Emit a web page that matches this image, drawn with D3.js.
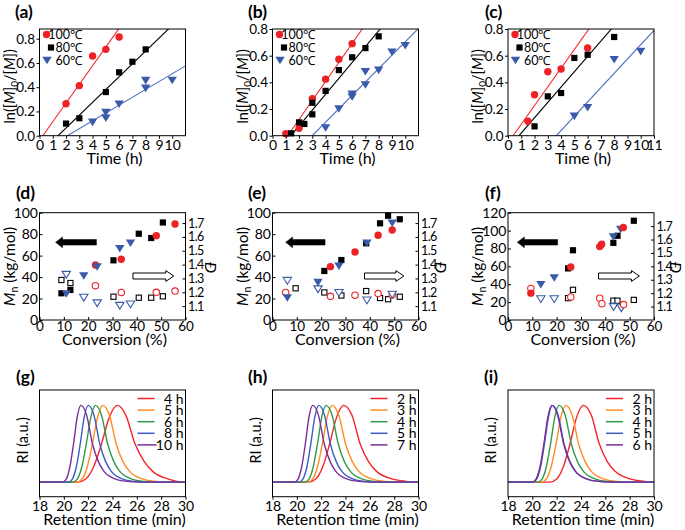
<!DOCTYPE html>
<html><head><meta charset="utf-8">
<script src="https://cdn.jsdelivr.net/npm/d3@7"></script>
<style>
body{margin:0;background:#fff}
svg{display:block}
text{font-family:Lato,'Open Sans',sans-serif;fill:#000}
</style>
</head><body>
<script>
// ================= DATA =================
// Row 1: kinetics ln([M]0/[M]) vs time (h)
const tempLabels = ["100\u2103", "80\u2103", "60\u2103"];
const kinTicksX_ab = [0,1,2,3,4,5,6,7,8,9,10];
const kinTicksX_c  = [0,1,2,3,4,5,6,7,8,9,10,11];
const kinTicksY    = [0,0.2,0.4,0.6,0.8];

const a_t100 = [2,3,4,5,6],            a_v100 = [0.263,0.413,0.657,0.712,0.814];
const a_t80  = [2,3,5,6,7,8],          a_v80  = [0.10,0.144,0.36,0.523,0.61,0.712];
const a_t60  = [4,5,5,6,8,8,10],       a_v60  = [0.11,0.19,0.144,0.26,0.454,0.39,0.455];
const a_fitX0 = [0.25,1.4,2.1],        a_fitSlope = [0.154,0.1058,0.0647];

const b_t100 = [1,2,3,4,5,6],          b_v100 = [0.015,0.055,0.278,0.424,0.573,0.69];
const b_t80  = [1.4,2,2.4,3,3,4,5,6,7,8], b_v80 = [0.018,0.10,0.088,0.247,0.16,0.336,0.492,0.588,0.657,0.745];
const b_t60  = [4,5,6,6,7,7,8,9,10],   b_v60  = [0.058,0.20,0.29,0.31,0.38,0.48,0.49,0.626,0.674];
const b_fitX0 = [1.14,1.39,2.99],      b_fitSlope = [0.1423,0.119,0.1004];

const c_t100 = [1.5,2,3,4,6],          c_v100 = [0.108,0.307,0.48,0.50,0.657];
const c_t80  = [2,3,4,5,6,8],          c_v80  = [0.07,0.295,0.32,0.583,0.607,0.74];
const c_t60  = [5,6,8,10],             c_v60  = [0.145,0.21,0.57,0.63];
const c_fitX0 = [0.38,0.83,3.64],      c_fitSlope = [0.14,0.115,0.1073];

// Row 2: Mn (kg/mol) and dispersity vs conversion (%)
const convTicks = [0,10,20,30,40,50,60];
const mnTicks_de = [0,20,40,60,80,100];
const mnTicks_f  = [0,20,40,60,80,100,120];
const dispTicks  = [1.1,1.2,1.3,1.4,1.5,1.6,1.7];

const d_red_conv  = [23,33.6,48,55.7],       d_red_mn  = [51.3,56.6,78.6,89.5];
const d_red_dconv = [23,33.6,48,55.7],       d_red_disp = [1.248,1.199,1.200,1.209];
const d_blk_conv  = [9,12.7,30.4,40.8,45.9,50.7], d_blk_mn = [24.9,28.0,55.6,80.4,76.4,90.9];
const d_blk_dconv = [9,12.7,30.4,40.8,45.9,50.7], d_blk_disp = [1.289,1.267,1.168,1.161,1.161,1.171];
const d_blu_conv  = [11,18.2,23.7,33,37.4],  d_blu_mn = [24.2,41.0,49.4,66.4,71.5];
const d_blu_dconv = [11,18.2,23.7,33,37.4],  d_blu_disp = [1.327,1.161,1.121,1.103,1.113];

const e_red_conv  = [23.8,33.9,43.4,49.2],   e_red_mn = [49.7,63.4,79.0,83.9];
const e_red_dconv = [5.4,23.8,33.9,43.4,49.2], e_red_disp = [1.199,1.171,1.179,1.191,1.181];
const e_blk_conv  = [21.3,28.3,38.5,44.2,47.5,52.3], e_blk_mn = [45.7,55.9,71.5,90.1,97.2,93.9];
const e_blk_dconv = [9.5,21.3,28.3,38.5,44.2,47.5,52.3], e_blk_disp = [1.229,1.199,1.177,1.209,1.159,1.150,1.168];
const e_blu_conv  = [6.1,18.7,27.3,38.8,49.2], e_blu_mn = [20.5,34.8,50.1,71.5,90.1];
const e_blu_dconv = [6.1,18.7,27.3,38.8,49.2], e_blu_disp = [1.283,1.222,1.196,1.142,1.183];

const f_red_conv  = [9.4,25.8,37.7,38.5,47.4], f_red_mn = [30.0,59.3,82.1,84.7,103.5];
const f_red_dconv = [9.4,25.8,37.7,38.6,47.5], f_red_disp = [1.235,1.172,1.163,1.122,1.115];
const f_blk_conv  = [24.7,26.7,43.3,45.0,51.7], f_blk_mn = [57.7,78.0,86.3,94.2,111.0];
const f_blk_dconv = [24.7,26.7,43.3,45.0,51.7], f_blk_disp = [1.163,1.225,1.144,1.144,1.150];
const f_blu_conv  = [13.5,19.0,43.3,46.3],   f_blu_mn = [39.4,46.9,92.8,101.2];
const f_blu_dconv = [13.5,19.0,43.4,46.6],   f_blu_disp = [1.156,1.156,1.097,1.088];

// Row 3: GPC traces, normalized RI level at each listed retention time (min)
const rtTicks = [18,20,22,24,26,28,30];
const gpcLevels = [0,0,0.04,0.2,0.5,0.85,1,0.87,0.5,0.27,0.14,0.04,0.01,0,0];
const g_labels = ["4 h","5 h","6 h","8 h","10 h"];
const g_times = [
  [18,21.15,21.8,22.45,23.1,23.75,24.4,25.1,25.85,26.6,27.3,28.6,29.3,29.8,30],
  [18,21.08,21.5,21.93,22.35,22.78,23.2,23.75,24.3,24.85,25.4,26.5,27.6,28.7,30],
  [18,20.73,21.1,21.48,21.85,22.23,22.6,23.1,23.6,24.1,24.6,25.6,26.6,27.6,30],
  [18,20.38,20.7,21.03,21.35,21.68,22.0,22.48,22.95,23.43,23.9,24.85,25.8,26.75,30],
  [18,19.9,20.2,20.5,20.8,21.1,21.4,21.88,22.35,22.83,23.3,24.25,25.2,26.15,30]
];
const h_labels = ["2 h","3 h","4 h","5 h","7 h"];
const h_times = [
  [18,20.98,21.55,22.13,22.7,23.28,23.85,24.53,25.2,25.88,26.55,27.9,29.0,29.6,30],
  [18,20.9,21.3,21.7,22.1,22.5,22.9,23.45,24.0,24.55,25.1,26.2,27.3,28.4,30],
  [18,20.65,21.0,21.35,21.7,22.05,22.4,22.9,23.4,23.9,24.4,25.4,26.4,27.4,30],
  [18,20.18,20.5,20.83,21.15,21.48,21.8,22.28,22.75,23.23,23.7,24.65,25.6,26.55,30],
  [18,19.8,20.1,20.4,20.7,21.0,21.3,21.78,22.25,22.73,23.2,24.15,25.1,26.05,30]
];
const i_labels = ["2 h","3 h","4 h","5 h","6 h"];
const i_times = [
  [18,21.45,22.0,22.55,23.1,23.65,24.2,24.85,25.5,26.15,26.8,28.1,29.2,29.7,30],
  [18,20.75,21.15,21.55,21.95,22.35,22.75,23.28,23.8,24.33,24.85,25.9,26.95,28.0,30],
  [18,20.45,20.8,21.15,21.5,21.85,22.2,22.7,23.2,23.7,24.2,25.2,26.2,27.2,30],
  [18,20.03,20.35,20.68,21.0,21.33,21.65,22.13,22.6,23.08,23.55,24.5,25.45,26.4,30],
  [18,19.98,20.3,20.63,20.95,21.28,21.6,22.08,22.57,23.06,23.54,24.51,25.48,26.45,30]
];

// ================= STYLE =================
const RED = "#ec2227", BLACK = "#000000", BLUE = "#3b5ba8";
const LINE_COLORS = ["#ef2b2d", "#000000", "#4b6ec0"];
const GPC_COLORS = ["#f5232b", "#ff8c22", "#2f9a4c", "#3d5cc2", "#7a2e9c"];
const COLS = [39.5, 272.5, 508];
const PW = 146;
const TICK_FS = "14px", TITLE_FS = "16px";

const svg = d3.select("body").append("svg").attr("width", 685).attr("height", 530);
const defs = svg.append("defs");
let clipN = 0;
function makeClip(x, y, w, h) {
  const id = "clip" + (clipN++);
  defs.append("clipPath").attr("id", id).append("rect").attr("x", x).attr("y", y).attr("width", w).attr("height", h);
  return "url(#" + id + ")";
}
function frame(g, x, y, w, h) {
  g.append("rect").attr("x", x).attr("y", y).attr("width", w).attr("height", h)
    .attr("fill", "none").attr("stroke", "#000").attr("stroke-width", 1);
}
function styleAxis(sel, fs) {
  sel.select(".domain").remove();
  sel.selectAll(".tick line").attr("stroke", "#000");
  sel.selectAll(".tick text").style("font-size", fs || TICK_FS).attr("fill", "#000");
}
function marker(g, shape, x, y, color, open) {
  if (shape === "circle") {
    g.append("circle").attr("cx", x).attr("cy", y).attr("r", open ? 3.2 : 3.7)
      .attr("fill", open ? "#fff" : color).attr("stroke", open ? color : "none").attr("stroke-width", 1.1);
  } else if (shape === "square") {
    const s = open ? 5.2 : 6.2;
    g.append("rect").attr("x", x - s / 2).attr("y", y - s / 2).attr("width", s).attr("height", s)
      .attr("fill", open ? "#fff" : color).attr("stroke", open ? color : "none").attr("stroke-width", 1.1);
  } else {
    const w = open ? 8.4 : 9.4, h = open ? 6.8 : 7.6;
    g.append("path").attr("d", `M${x - w / 2},${y - h / 2}L${x + w / 2},${y - h / 2}L${x},${y + h / 2}Z`)
      .attr("fill", open ? "#fff" : color).attr("stroke", open ? color : "none").attr("stroke-width", 1.1)
      .attr("stroke-linejoin", "miter");
  }
}
function panelLabel(txt, x, y) {
  svg.append("text").attr("x", x).attr("y", y).style("font-size", "17.5px").style("font-weight", "bold").text(txt);
}

// ================= ROW 1 =================
function drawKinetics(cfg) {
  const g = svg.append("g");
  const top = 29, h = 106.7, left = cfg.left;
  const x = d3.scaleLinear().domain([0, 11]).range([left, left + PW]);
  const y = d3.scaleLinear().domain([0, cfg.yMax]).range([top + h, top]);
  const cp = makeClip(left, top, PW, h);
  cfg.fitX0.forEach((x0, i) => {
    g.append("line").attr("clip-path", cp)
      .attr("x1", x(x0)).attr("y1", y(0))
      .attr("x2", x(11)).attr("y2", y(cfg.fitSlope[i] * (11 - x0)))
      .attr("stroke", LINE_COLORS[i]).attr("stroke-width", 1.1);
  });
  const shapes = ["circle", "square", "triangle"], cols = [RED, BLACK, BLUE];
  cfg.series.forEach((s, i) => {
    s[0].forEach((t, j) => marker(g, shapes[i], x(t), y(s[1][j]), cols[i], false));
  });
  // legend
  const rows = [top + 5.5, top + 18.5, top + 31.5];
  const mx = [left + 7, left + 11.5, left + 7.5];
  tempLabels.forEach((lab, i) => {
    marker(g, shapes[i], mx[i], rows[i], cols[i], false);
    g.append("text").attr("x", left + 42.5).attr("y", rows[i] + 4.5).attr("text-anchor", "end")
      .style("font-size", "12.5px").text(lab);
  });
  frame(g, left, top, PW, h);
  const ax = g.append("g").attr("transform", `translate(0,${top + h})`)
    .call(d3.axisBottom(x).tickValues(cfg.xTicks).tickFormat(d3.format("d")).tickSize(3).tickSizeOuter(0).tickPadding(1));
  styleAxis(ax);
  const ay = g.append("g").attr("transform", `translate(${left},0)`)
    .call(d3.axisLeft(y).tickValues(kinTicksY).tickFormat(d3.format(".1f")).tickSize(3).tickSizeOuter(0).tickPadding(1.5));
  styleAxis(ay, "13.5px");
  g.append("text").attr("x", left + PW / 2 + 2).attr("y", 164).attr("text-anchor", "middle")
    .style("font-size", TITLE_FS).text("Time (h)");
  const yl = g.append("text").attr("transform", `translate(${left - 25},${top + h / 2 + 4}) rotate(-90)`)
    .attr("text-anchor", "middle").style("font-size", "14.5px");
  yl.append("tspan").text("ln([");
  yl.append("tspan").style("font-style", "italic").text("M");
  yl.append("tspan").text("]");
  yl.append("tspan").attr("dy", 3).style("font-size", "10px").text("0");
  yl.append("tspan").attr("dy", -3).text("/[");
  yl.append("tspan").style("font-style", "italic").text("M");
  yl.append("tspan").text("])");
}

drawKinetics({ left: COLS[0], yMax: 0.88, xTicks: kinTicksX_ab, fitX0: a_fitX0, fitSlope: a_fitSlope,
  series: [[a_t100, a_v100], [a_t80, a_v80], [a_t60, a_v60]] });
drawKinetics({ left: COLS[1], yMax: 0.8, xTicks: kinTicksX_ab, fitX0: b_fitX0, fitSlope: b_fitSlope,
  series: [[b_t100, b_v100], [b_t80, b_v80], [b_t60, b_v60]] });
drawKinetics({ left: COLS[2], yMax: 0.8, xTicks: kinTicksX_c, fitX0: c_fitX0, fitSlope: c_fitSlope,
  series: [[c_t100, c_v100], [c_t80, c_v80], [c_t60, c_v60]] });

// ================= ROW 2 =================
function arrow(g, x1, x2, cy, dir, filled) {
  const bh = filled ? 2.8 : 3.0, hh = 5.4, hl = filled ? 7 : 8;
  let pts;
  if (dir < 0) {
    pts = [[x1, cy], [x1 + hl, cy - hh], [x1 + hl, cy - bh], [x2, cy - bh], [x2, cy + bh], [x1 + hl, cy + bh], [x1 + hl, cy + hh]];
  } else {
    pts = [[x2, cy], [x2 - hl, cy - hh], [x2 - hl, cy - bh], [x1, cy - bh], [x1, cy + bh], [x2 - hl, cy + bh], [x2 - hl, cy + hh]];
  }
  g.append("path").attr("d", "M" + pts.map(p => p.join(",")).join("L") + "Z")
    .attr("fill", filled ? "#000" : "#fff").attr("stroke", "#000").attr("stroke-width", filled ? 0.5 : 1);
}
function drawMn(cfg) {
  const g = svg.append("g");
  const top = 212.7, h = 107.3, left = cfg.left;
  const x = d3.scaleLinear().domain([0, 60]).range([left, left + PW]);
  const yM = d3.scaleLinear().domain([0, cfg.mMax]).range([top + h, top]);
  const yD = d3.scaleLinear().domain([1.0, cfg.dMax]).range([top + h, top]);
  const shapes = ["square", "circle", "triangle"], cols = [BLACK, RED, BLUE];
  const order = cfg.order || [0, 1, 2];
  order.forEach(i => {
    const s = cfg.series[i];
    s.dconv.forEach((c, j) => marker(g, shapes[i], x(c), yD(s.disp[j]), cols[i], true));
  });
  order.forEach(i => {
    const s = cfg.series[i];
    s.conv.forEach((c, j) => marker(g, shapes[i], x(c), yM(s.mn[j]), cols[i], false));
  });
  arrow(g, left + cfg.arrL[0] * PW, left + cfg.arrL[1] * PW, top + 0.276 * h, -1, true);
  arrow(g, left + cfg.arrR[0] * PW, left + cfg.arrR[1] * PW, top + 0.59 * h, 1, false);
  frame(g, left, top, PW, h);
  const ax = g.append("g").attr("transform", `translate(0,${top + h})`)
    .call(d3.axisBottom(x).tickValues(convTicks).tickSizeInner(-3).tickSizeOuter(0).tickPadding(1));
  styleAxis(ax, "13.5px");
  const ay = g.append("g").attr("transform", `translate(${left},0)`)
    .call(d3.axisLeft(yM).tickValues(cfg.mTicks).tickSizeInner(-3).tickSizeOuter(0).tickPadding(1.5));
  styleAxis(ay);
  const ar = g.append("g").attr("transform", `translate(${left + PW},0)`)
    .call(d3.axisRight(yD).tickValues(dispTicks).tickFormat(d3.format(".1f")).tickSizeInner(-3).tickSizeOuter(0).tickPadding(2.5));
  styleAxis(ar, "12.5px");
  ar.selectAll(".tick text").style("letter-spacing", "-0.6px");
  g.append("text").attr("x", left + PW / 2 + 2).attr("y", 345).attr("text-anchor", "middle")
    .style("font-size", TITLE_FS).text("Conversion (%)");
  const yl = g.append("text").attr("transform", `translate(${left - 25},${top + h / 2}) rotate(-90)`)
    .attr("text-anchor", "middle").style("font-size", "15.5px");
  yl.append("tspan").style("font-style", "italic").text("M");
  yl.append("tspan").attr("dy", 3).style("font-size", "10.5px").text("n");
  yl.append("tspan").attr("dy", -3).text(" (kg/mol)");
  g.append("text").attr("transform", `translate(${left + PW + cfg.dLab},${top + h / 2 + 1}) rotate(90)`)
    .attr("text-anchor", "middle").style("font-size", "16px").style("font-style", "italic").text("\u0110");
}

drawMn({ left: COLS[0], mMax: 100, dMax: 1.775, mTicks: mnTicks_de, arrL: [0.11, 0.39], arrR: [0.64, 0.92], dLab: 19,
  series: [
    { conv: d_blk_conv, mn: d_blk_mn, dconv: d_blk_dconv, disp: d_blk_disp },
    { conv: d_red_conv, mn: d_red_mn, dconv: d_red_dconv, disp: d_red_disp },
    { conv: d_blu_conv, mn: d_blu_mn, dconv: d_blu_dconv, disp: d_blu_disp }] });
drawMn({ left: COLS[1], mMax: 100, dMax: 1.775, mTicks: mnTicks_de, arrL: [0.09, 0.36], arrR: [0.63, 0.9], dLab: 16,
  series: [
    { conv: e_blk_conv, mn: e_blk_mn, dconv: e_blk_dconv, disp: e_blk_disp },
    { conv: e_red_conv, mn: e_red_mn, dconv: e_red_dconv, disp: e_red_disp },
    { conv: e_blu_conv, mn: e_blu_mn, dconv: e_blu_dconv, disp: e_blu_disp }] });
drawMn({ left: COLS[2], mMax: 120, dMax: 1.8, mTicks: mnTicks_f, arrL: [0.064, 0.34], arrR: [0.62, 0.9], order: [0, 2, 1], dLab: 16,
  series: [
    { conv: f_blk_conv, mn: f_blk_mn, dconv: f_blk_dconv, disp: f_blk_disp },
    { conv: f_red_conv, mn: f_red_mn, dconv: f_red_dconv, disp: f_red_disp },
    { conv: f_blu_conv, mn: f_blu_mn, dconv: f_blu_dconv, disp: f_blu_disp }] });

// ================= ROW 3 =================
function drawGPC(cfg) {
  const g = svg.append("g");
  const top = 390, h = 106.7, left = cfg.left;
  const x = d3.scaleLinear().domain([18, 30]).range([left, left + PW]);
  const y = d3.scaleLinear().domain([-0.19, 1.2]).range([top + h, top]);
  const cp = makeClip(left, top, PW, h);
  const line = d3.line().x(d => x(d[0])).y(d => y(d[1])).curve(d3.curveMonotoneX);
  cfg.times.forEach((ts, i) => {
    g.append("path").attr("clip-path", cp)
      .attr("d", line(ts.map((t, j) => [t, gpcLevels[j]])))
      .attr("fill", "none").attr("stroke", GPC_COLORS[i]).attr("stroke-width", 1.4);
  });
  cfg.labels.forEach((lab, i) => {
    const cy = top + 8.5 + i * 11.6;
    g.append("line").attr("x1", left + PW - 48).attr("x2", left + PW - (lab.length > 3 ? 29 : 31))
      .attr("y1", cy).attr("y2", cy).attr("stroke", GPC_COLORS[i]).attr("stroke-width", 1.5);
    g.append("text").attr("x", left + PW - 2).attr("y", cy + 5).attr("text-anchor", "end")
      .style("font-size", "14px").text(lab);
  });
  frame(g, left, top, PW, h);
  const ax = g.append("g").attr("transform", `translate(0,${top + h})`)
    .call(d3.axisBottom(x).tickValues(rtTicks).tickSize(3).tickSizeOuter(0).tickPadding(1));
  styleAxis(ax);
  g.append("text").attr("x", left + PW / 2 + 2).attr("y", 525).attr("text-anchor", "middle")
    .style("font-size", TITLE_FS).text("Retention time (min)");
  g.append("text").attr("transform", `translate(${left - 12},${top + h / 2 - 3}) rotate(-90)`)
    .attr("text-anchor", "middle").style("font-size", "14.5px").text("RI (a.u.)");
}
drawGPC({ left: COLS[0], times: g_times, labels: g_labels });
drawGPC({ left: COLS[1], times: h_times, labels: h_labels });
drawGPC({ left: COLS[2], times: i_times, labels: i_labels });

// panel labels
panelLabel("(a)", 15, 18); panelLabel("(b)", 248, 18); panelLabel("(c)", 485, 18);
panelLabel("(d)", 16, 199); panelLabel("(e)", 248, 199); panelLabel("(f)", 485, 199);
panelLabel("(g)", 16, 383); panelLabel("(h)", 248, 383); panelLabel("(i)", 484, 383);
</script>
</body></html>
